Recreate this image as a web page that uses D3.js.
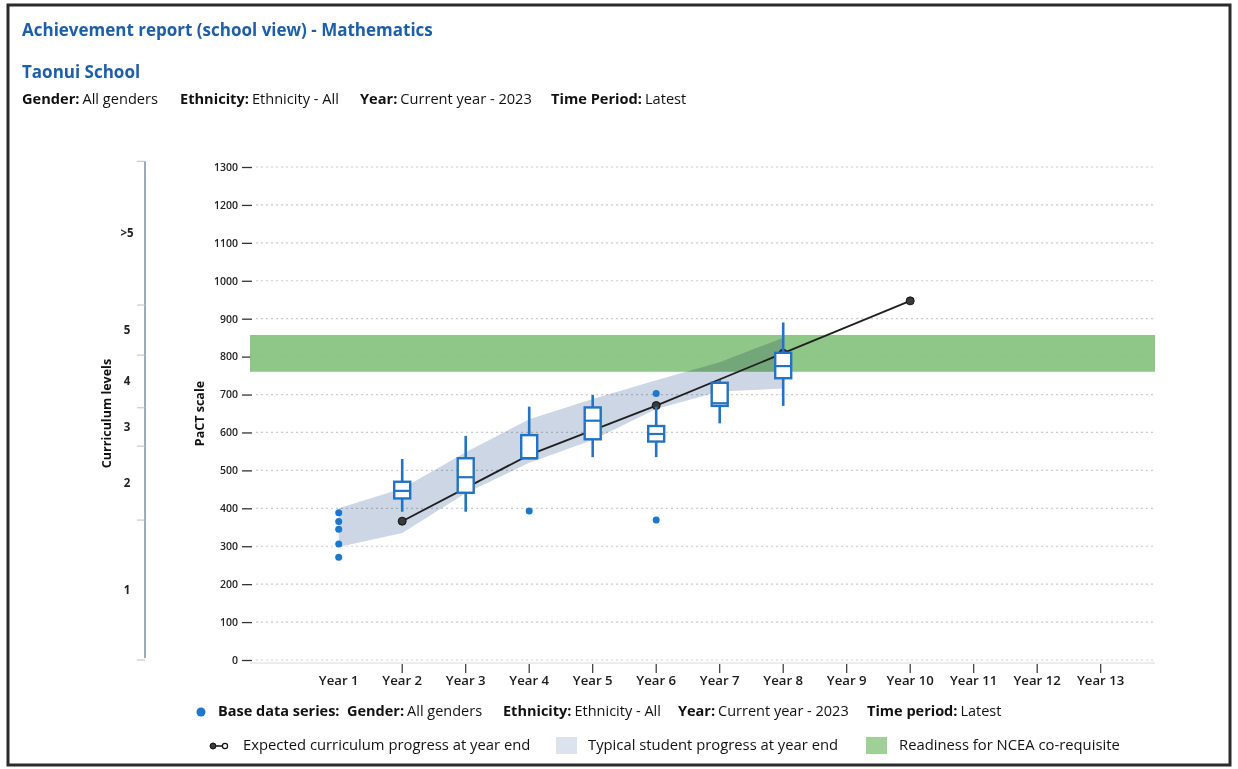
<!DOCTYPE html>
<html>
<head>
<meta charset="utf-8">
<script src="https://cdn.jsdelivr.net/npm/d3@7"></script>
<style>
  html, body { margin: 0; padding: 0; background: #fff; }
  svg { display: block; font-family: "Open Sans", "Noto Sans", sans-serif; }
</style>
</head>
<body>
<svg id="chart" width="1238" height="769"></svg>
<script>
// ---------------- data ----------------
const years = ["Year 1","Year 2","Year 3","Year 4","Year 5","Year 6","Year 7","Year 8","Year 9","Year 10","Year 11","Year 12","Year 13"];
const yTicks = [0,100,200,300,400,500,600,700,800,900,1000,1100,1200,1300];

// curriculum levels (boundaries on PaCT scale) and labels
const levelBounds = [0, 369, 564, 665, 804, 936, 1315];
const levelLabels = ["1", "2", "3", "4", "5", ">5"];

// box plots (year index 1..13)
const boxYears  = [2,   3,   4,   5,   6,   7,   8];
const boxLow    = [391, 391, 532, 535, 535, 624, 670];
const boxQ1     = [426, 441, 532, 582, 576, 670, 743];
const boxMedian = [446, 482, 532, 631, 596, 677, 775];
const boxQ3     = [470, 532, 593, 666, 617, 731, 810];
const boxHigh   = [530, 591, 668, 699, 668, 738, 890];

// individual points (base data dots / outliers)
const dotYears  = [1,   1,   1,   1,   1,   4,   6,   6];
const dotValues = [388, 365, 345, 306, 271, 393, 703, 369];

// expected curriculum progress at year end
const expYears  = [2,   4,   6,   8,   10];
const expValues = [366, 541, 671, 809, 947];

// typical student progress band
const bandYears = [1,   2,   3,   4,   5,   6,   7,   8];
const bandLow   = [298, 335, 440, 520, 580, 662, 708, 716];
const bandHigh  = [400, 452, 548, 635, 688, 738, 785, 850];

// readiness for NCEA co-requisite
const nceaRange = [760, 857];

// texts
const titleText = "Achievement report (school view) - Mathematics";
const schoolText = "Taonui School";
const filterLabels = ["Gender:", "Ethnicity:", "Year:", "Time Period:"];
const filterValues = ["All genders", "Ethnicity - All", "Current year - 2023", "Latest"];
const legendFilterLabels = ["Gender:", "Ethnicity:", "Year:", "Time period:"];
const legendItems = ["Expected curriculum progress at year end", "Typical student progress at year end", "Readiness for NCEA co-requisite"];

// ---------------- drawing ----------------
const svg = d3.select("#chart");
const blue = "#1d5ea8";
const boxBlue = "#2273c3";

// page frame
svg.append("rect").attr("x", 8).attr("y", 5).attr("width", 1222).attr("height", 760)
  .attr("fill", "none").attr("stroke", "#2b2b2b").attr("stroke-width", 3);

// header
svg.append("text").attr("x", 22).attr("y", 36).attr("fill", blue)
  .attr("font-size", 17).attr("font-weight", 700).text(titleText);
svg.append("text").attr("x", 22).attr("y", 78).attr("fill", blue)
  .attr("font-size", 17).attr("font-weight", 700).text(schoolText);

const filterX = [22, 180, 360, 551];
const ft = svg.append("g");
filterLabels.forEach((l, i) => {
  const t = ft.append("text").attr("x", filterX[i]).attr("y", 104)
    .attr("font-size", 14.6).attr("fill", "#111");
  t.append("tspan").attr("font-weight", 700).text(l);
  t.append("tspan").attr("dx", 3).attr("font-weight", 500).text(filterValues[i]);
});

// scales
const plotLeft = 250, plotRight = 1155;
const x = d3.scaleLinear().domain([1, 13]).range([338.7, 1100.7]);
const y = d3.scaleLinear().domain([0, 1300]).range([660, 167]);

// gridlines
svg.append("g").selectAll("line").data(yTicks).join("line")
  .attr("x1", plotLeft + 6).attr("x2", plotRight)
  .attr("y1", d => y(d)).attr("y2", d => y(d))
  .attr("stroke", "#c9ccd2").attr("stroke-width", 1.2)
  .attr("stroke-dasharray", "2,3");

// x axis baseline
svg.append("line").attr("x1", plotLeft).attr("x2", plotRight)
  .attr("y1", y(0) + 3).attr("y2", y(0) + 3)
  .attr("stroke", "#d8dadf").attr("stroke-width", 1);

// y axis (PaCT)
const yAxis = d3.axisLeft(y).tickValues(yTicks).tickFormat(d3.format("d")).tickSize(10).tickPadding(4);
const gy = svg.append("g").attr("transform", `translate(${plotLeft + 2},0)`).call(yAxis);
gy.select(".domain").remove();
gy.selectAll(".tick line").attr("stroke", "#333").attr("stroke-width", 1.3);
gy.selectAll(".tick text").attr("font-size", 10.5).attr("font-weight", 600)
  .attr("fill", "#222").attr("font-family", "'Open Sans', sans-serif");

svg.append("text").attr("transform", `translate(204,${y(650)}) rotate(-90)`)
  .attr("text-anchor", "middle").attr("font-size", 12.5).attr("font-weight", 700)
  .attr("fill", "#111").text("PaCT scale");

// curriculum levels axis
const cx = 145;
const cg = svg.append("g");
cg.append("line").attr("x1", cx).attr("x2", cx)
  .attr("y1", y(levelBounds[levelBounds.length - 1])).attr("y2", y(levelBounds[0]) - 2)
  .attr("stroke", "#8594ad").attr("stroke-width", 1.6);
cg.selectAll("line.tk").data(levelBounds).join("line").attr("class", "tk")
  .attr("x1", cx - 8).attr("x2", cx)
  .attr("y1", d => y(d)).attr("y2", d => y(d))
  .attr("stroke", "#b9c0cc").attr("stroke-width", 1);
cg.selectAll("text.lv").data(levelLabels).join("text").attr("class", "lv")
  .attr("x", 127).attr("y", (d, i) => (y(levelBounds[i]) + y(levelBounds[i + 1])) / 2 + 4)
  .attr("text-anchor", "middle").attr("font-size", 11.5).attr("font-weight", 700)
  .attr("fill", "#222").text(d => d);
svg.append("text").attr("transform", `translate(111,${y(650)}) rotate(-90)`)
  .attr("text-anchor", "middle").attr("font-size", 12.5).attr("font-weight", 700)
  .attr("fill", "#111").text("Curriculum levels");

// NCEA band
svg.append("rect").attr("x", plotLeft).attr("width", plotRight - plotLeft)
  .attr("y", y(nceaRange[1])).attr("height", y(nceaRange[0]) - y(nceaRange[1]))
  .attr("fill", "#86c27e").attr("opacity", 0.92);

// typical student progress band
const bandData = bandYears.map((yr, i) => ({ yr, lo: bandLow[i], hi: bandHigh[i] }));
const area = d3.area().x(d => x(d.yr)).y0(d => y(d.lo)).y1(d => y(d.hi)).curve(d3.curveLinear);
svg.append("path").datum(bandData).attr("d", area)
  .attr("fill", "#cdd6e5").style("mix-blend-mode", "multiply");

// x axis ticks and labels
const gx = svg.append("g");
gx.selectAll("line").data(years.slice(1)).join("line")
  .attr("x1", (d, i) => x(i + 2)).attr("x2", (d, i) => x(i + 2))
  .attr("y1", y(0) + 4).attr("y2", y(0) + 13)
  .attr("stroke", "#333").attr("stroke-width", 1.2);
gx.selectAll("text").data(years).join("text")
  .attr("x", (d, i) => x(i + 1)).attr("y", 685)
  .attr("text-anchor", "middle").attr("font-size", 13.2).attr("font-weight", 600)
  .attr("fill", "#1a1a1a").text(d => d);

// expected line
const expData = expYears.map((yr, i) => ({ yr, v: expValues[i] }));
svg.append("path").datum(expData)
  .attr("d", d3.line().x(d => x(d.yr)).y(d => y(d.v)))
  .attr("fill", "none").attr("stroke", "#1f1f1f").attr("stroke-width", 1.8);
svg.append("g").selectAll("circle").data(expData).join("circle")
  .attr("cx", d => x(d.yr)).attr("cy", d => y(d.v)).attr("r", 4)
  .attr("fill", "#3a3a3a").attr("stroke", "#111").attr("stroke-width", 1);

// box plots
const bw = 16;
const boxes = boxYears.map((yr, i) => ({ yr, lo: boxLow[i], q1: boxQ1[i], md: boxMedian[i], q3: boxQ3[i], hi: boxHigh[i] }));
const bg = svg.append("g").selectAll("g").data(boxes).join("g");
bg.append("line").attr("x1", d => x(d.yr)).attr("x2", d => x(d.yr))
  .attr("y1", d => y(d.hi)).attr("y2", d => y(d.q3))
  .attr("stroke", boxBlue).attr("stroke-width", 2.6);
bg.append("line").attr("x1", d => x(d.yr)).attr("x2", d => x(d.yr))
  .attr("y1", d => y(d.q1)).attr("y2", d => y(d.lo))
  .attr("stroke", boxBlue).attr("stroke-width", 2.6);
bg.append("rect").attr("x", d => x(d.yr) - bw / 2).attr("width", bw)
  .attr("y", d => y(d.q3)).attr("height", d => Math.max(1, y(d.q1) - y(d.q3)))
  .attr("fill", "#fff").attr("stroke", boxBlue).attr("stroke-width", 2.4);
bg.append("line").attr("x1", d => x(d.yr) - bw / 2).attr("x2", d => x(d.yr) + bw / 2)
  .attr("y1", d => y(d.md)).attr("y2", d => y(d.md))
  .attr("stroke", boxBlue).attr("stroke-width", 2.2);

// dots
svg.append("g").selectAll("circle").data(dotYears.map((yr, i) => ({ yr, v: dotValues[i] }))).join("circle")
  .attr("cx", d => x(d.yr)).attr("cy", d => y(d.v)).attr("r", 3.5)
  .attr("fill", "#1b78cc");

// legend row 1
const lg1 = svg.append("g");
lg1.append("circle").attr("cx", 201).attr("cy", 712).attr("r", 4.5).attr("fill", "#1b78cc");
lg1.append("text").attr("x", 218).attr("y", 716).attr("font-size", 14.5).attr("font-weight", 700)
  .attr("fill", "#111").text("Base data series:");
const lgX = [347, 503, 678, 867];
legendFilterLabels.forEach((l, i) => {
  const t = lg1.append("text").attr("x", lgX[i]).attr("y", 716).attr("font-size", 14.5).attr("fill", "#111");
  t.append("tspan").attr("font-weight", 700).text(l);
  t.append("tspan").attr("dx", 3).attr("font-weight", 500).text(filterValues[i]);
});

// legend row 2
const lg2 = svg.append("g");
lg2.append("line").attr("x1", 213).attr("x2", 224).attr("y1", 746).attr("y2", 746)
  .attr("stroke", "#1f1f1f").attr("stroke-width", 1.6);
lg2.append("circle").attr("cx", 213).attr("cy", 746).attr("r", 3).attr("fill", "#3a3a3a").attr("stroke", "#111");
lg2.append("circle").attr("cx", 225).attr("cy", 746).attr("r", 2.6).attr("fill", "#fff").attr("stroke", "#111").attr("stroke-width", 1.2);
lg2.append("text").attr("x", 243).attr("y", 750).attr("font-size", 14.8).attr("font-weight", 500)
  .attr("fill", "#111").text(legendItems[0]);
lg2.append("rect").attr("x", 556).attr("y", 737).attr("width", 21).attr("height", 17).attr("fill", "#dde3ee");
lg2.append("text").attr("x", 588).attr("y", 750).attr("font-size", 14.8).attr("font-weight", 500)
  .attr("fill", "#111").text(legendItems[1]);
lg2.append("rect").attr("x", 866).attr("y", 737).attr("width", 21).attr("height", 17).attr("fill", "#9fd098");
lg2.append("text").attr("x", 899).attr("y", 750).attr("font-size", 14.8).attr("font-weight", 500)
  .attr("fill", "#111").text(legendItems[2]);
</script>
</body>
</html>
